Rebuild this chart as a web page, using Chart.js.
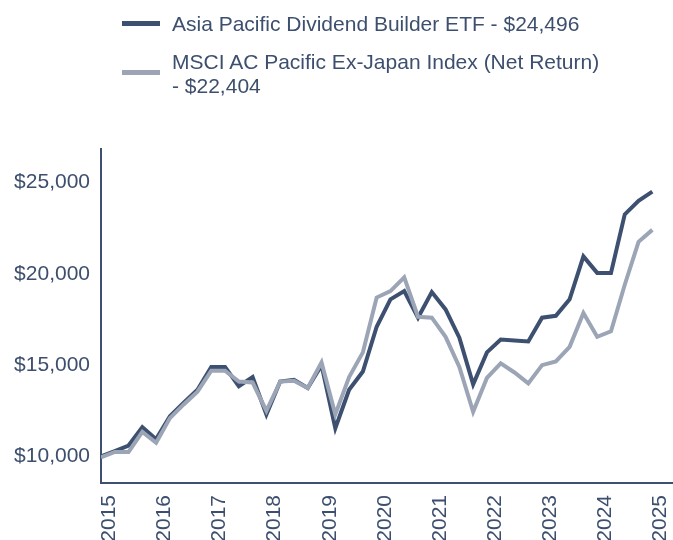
<!DOCTYPE html>
<html>
<head>
<meta charset="utf-8">
<script src="https://cdn.jsdelivr.net/npm/chart.js@4"></script>
<style>
  body { margin: 0; background: #fff; font-family: "Liberation Sans", Arial, sans-serif; }
  #wrap { position: relative; width: 673px; height: 540px; overflow: hidden; }
  .legend-item { position: absolute; left: 122px; color: #3d4f6e; font-size: 21px; line-height: 24px; }
  .swatch { position: absolute; left: 0; width: 38px; height: 5px; }
  .label { position: absolute; left: 50px; white-space: nowrap; }
</style>
</head>
<body>
<div id="wrap">
  <canvas id="growthChart" width="673" height="540"></canvas>
  <div class="legend-item" style="top:12px">
    <div class="swatch" style="top:9px;background:#3d5070"></div>
    <div class="label">Asia Pacific Dividend Builder ETF - $24,496</div>
  </div>
  <div class="legend-item" style="top:50px">
    <div class="swatch" style="top:20px;background:#9ca5b5"></div>
    <div class="label">MSCI AC Pacific Ex-Japan Index (Net Return)<br>- $22,404</div>
  </div>
</div>
<script>
// Series values, quarterly
const fundValues = [
    10000, 10300, 10600, 11600, 10950, 12200, 12950, 13650, 14900, 14900,
    13850, 14350, 12300, 14100, 14200, 13750, 15000, 11550, 13650, 14650,
    17100, 18600, 19050, 17600, 19000, 18050, 16500, 13950, 15700, 16400,
    16350, 16300, 17600, 17700, 18600, 20950, 20050, 20050, 23250, 24000,
    24496
];
const indexValues = [
    9950, 10250, 10250, 11350, 10750, 12100, 12850, 13550, 14700, 14700,
    14100, 14050, 12500, 14100, 14150, 13750, 15150, 12300, 14350, 15700,
    18700, 19050, 19800, 17650, 17600, 16550, 14900, 12450, 14300, 15100,
    14600, 14000, 15000, 15200, 16000, 17850, 16550, 16850, 19400, 21750,
    22404
];
const yearLabels = ['2015', '2016', '2017', '2018', '2019', '2020', '2021', '2022', '2023', '2024', '2025'];
const yTickValues = [10000, 15000, 20000, 25000];

const DARK = '#3d5070';
const GRAY = '#9ca5b5';
const TEXT = '#3d4f6e';
const FONT = { family: '"Liberation Sans", Arial, sans-serif', size: 21 };

const toPoints = values => values.map((v, i) => ({ x: i, y: v }));

const ctx = document.getElementById('growthChart').getContext('2d');
new Chart(ctx, {
    type: 'line',
    data: {
        datasets: [{
            label: 'Asia Pacific Dividend Builder ETF - $24,496',
            data: toPoints(fundValues),
            borderColor: DARK,
            borderWidth: 4,
            order: 2
        }, {
            label: 'MSCI AC Pacific Ex-Japan Index (Net Return) - $22,404',
            data: toPoints(indexValues),
            borderColor: GRAY,
            borderWidth: 4,
            order: 1
        }]
    },
    options: {
        responsive: false,
        animation: false,
        layout: { padding: { top: 149, right: 0, left: 0, bottom: 0 } },
        elements: {
            point: { radius: 0 },
            line: { tension: 0, borderJoinStyle: 'miter', borderCapStyle: 'butt' }
        },
        plugins: { legend: { display: false }, tooltip: { enabled: false } },
        scales: {
            x: {
                type: 'linear',
                min: 0,
                max: 41.5,
                grid: { display: false, drawTicks: false },
                border: { color: DARK, width: 2 },
                afterBuildTicks: axis => {
                    // one label per year, a bit past each year's first quarter
                    axis.ticks = yearLabels.map((_, i) => ({ value: 0.6 + 4 * i }));
                },
                afterFit: axis => {
                    axis.height = 57;
                    axis.paddingLeft = 0;
                    axis.paddingRight = 0;
                },
                ticks: {
                    autoSkip: false,
                    minRotation: 90,
                    maxRotation: 90,
                    padding: 12,
                    color: TEXT,
                    font: FONT,
                    callback: (value, index) => yearLabels[index]
                }
            },
            y: {
                min: 8550,
                max: 26830,
                grid: { display: false, drawTicks: false },
                border: { color: DARK, width: 2 },
                afterBuildTicks: axis => {
                    axis.ticks = yTickValues.map(v => ({ value: v }));
                },
                afterFit: axis => { axis.width = 101; },
                ticks: {
                    padding: 11,
                    color: TEXT,
                    font: FONT,
                    callback: value => '$' + value.toLocaleString('en-US')
                }
            }
        }
    }
});
</script>
</body>
</html>
